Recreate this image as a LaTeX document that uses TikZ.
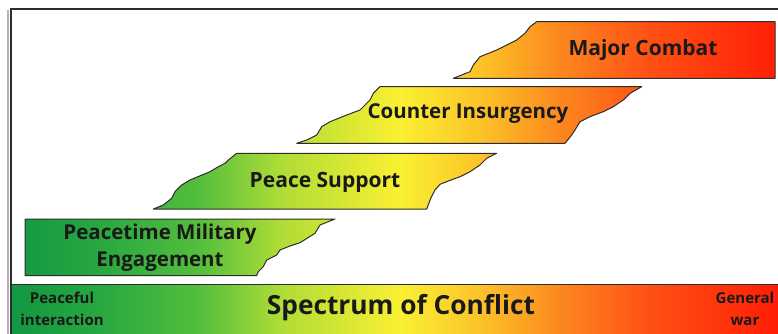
\documentclass[tikz,border=0pt]{standalone}
\usepackage{fontspec}
\setmainfont{Open Sans}
\definecolor{specA}{RGB}{15,150,65}
\definecolor{specB}{RGB}{40,168,65}
\definecolor{specC}{RGB}{85,190,60}
\definecolor{specD}{RGB}{175,220,55}
\definecolor{specE}{RGB}{250,240,50}
\definecolor{specF}{RGB}{252,195,40}
\definecolor{specG}{RGB}{252,135,30}
\definecolor{specH}{RGB}{255,80,20}
\definecolor{specI}{RGB}{255,30,5}
\definecolor{edge}{RGB}{45,45,45}
\pgfdeclarehorizontalshading{spec}{100bp}{%
color(0bp)=(specA);
color(25bp)=(specA);
color(31.43bp)=(specB);
color(37.85bp)=(specC);
color(43bp)=(specD);
color(50.7bp)=(specE);
color(55.85bp)=(specF);
color(60.99bp)=(specG);
color(66.77bp)=(specH);
color(75bp)=(specI);
color(100bp)=(specI)}
\tikzset{
  outline/.style={draw=edge, line width=1pt, line join=round},
  lbl/.style={font=\bfseries, text=black!90, align=center, inner sep=0pt},
}
\newcommand{\specfill}[1]{%
  \begin{scope}\clip #1;\shade[shading=spec] (0,0) rectangle (778,334);\end{scope}%
  \draw[outline] #1;}
\begin{document}
\begin{tikzpicture}[x=1pt,y=-1pt]
\useasboundingbox (0,0) rectangle (778,334);
\fill[white] (0,0) rectangle (778,334);
% frame
\draw[black!30, line width=1.5pt] (8,336) -- (8,10);
\draw[edge, line width=2pt] (10.5,336) -- (10.5,9.5) -- (780,9.5);
% bottom bar
\specfill{(11.5,284.5) rectangle (780,336)}
% shape 1: Peacetime Military Engagement
\specfill{(25,219) -- (335,219) -- (320,225) -- (315,233.3) -- (300,242.7) -- (290,246) -- (280,250) -- (276.7,255) -- (266.7,260) -- (263.3,266.7) -- (258.3,271.7) -- (256.7,275.7) -- (25,275.7) -- cycle}
% shape 2: Peace Support
\specfill{(236.7,153.3) -- (496.7,153.3) -- (486.7,158.3) -- (480,165) -- (470,171.7) -- (460,176.7) -- (448.3,181) -- (440,184.3) -- (435,190) -- (430.7,198.3) -- (426.7,209) -- (153.3,209) -- (163.3,205) -- (171.7,198.3) -- (175,191.7) -- (181.7,185) -- (190,180) -- (210,171.7) -- (218.3,166.7) -- (225,163.3) -- (228.3,160) -- cycle}
% shape 3: Counter Insurgency
\specfill{(380,86.7) -- (641.7,86.7) -- (630,93.3) -- (623.3,100) -- (613.3,106.7) -- (603.3,111.7) -- (590,116.7) -- (580,121.7) -- (575,130) -- (571.7,135) -- (565,143.3) -- (296.7,143.3) -- (306.7,140) -- (316.7,135) -- (321.7,126.7) -- (330,121.7) -- (346.7,115) -- (360,110) -- (365,105) -- (370,100) -- (373.3,93.3) -- cycle}
% shape 4: Major Combat
\specfill{(536.7,21.7) -- (775,21.7) -- (775,78.3) -- (453.3,78.3) -- (470,71.7) -- (473.3,65) -- (480,56.7) -- (496.7,50) -- (516.7,40) -- (525,33.3) -- (530,26.7) -- cycle}
% labels
\node[lbl, font=\bfseries\fontsize{21}{24}\selectfont] (mc) at (643,50) {Major Combat};
\node[lbl, font=\bfseries\fontsize{20.5}{24}\selectfont] (ci) at (468,114) {Counter Insurgency};
\node[lbl, font=\bfseries\fontsize{21}{24}\selectfont] (ps) at (325,182) {Peace Support};
\node[lbl, font=\bfseries\fontsize{20.5}{27}\selectfont] (pme) at (160,248) {Peacetime Military\\Engagement};
\node[lbl, font=\bfseries\fontsize{26.3}{30}\selectfont] (soc) at (401,308) {Spectrum of Conflict};
\node[lbl, font=\bfseries\fontsize{15}{22}\selectfont] (pi) at (62,309) {Peaceful\\interaction};
\node[lbl, font=\bfseries\fontsize{15}{22}\selectfont] (gw) at (745,309) {General\\war};
\end{tikzpicture}
\end{document}
